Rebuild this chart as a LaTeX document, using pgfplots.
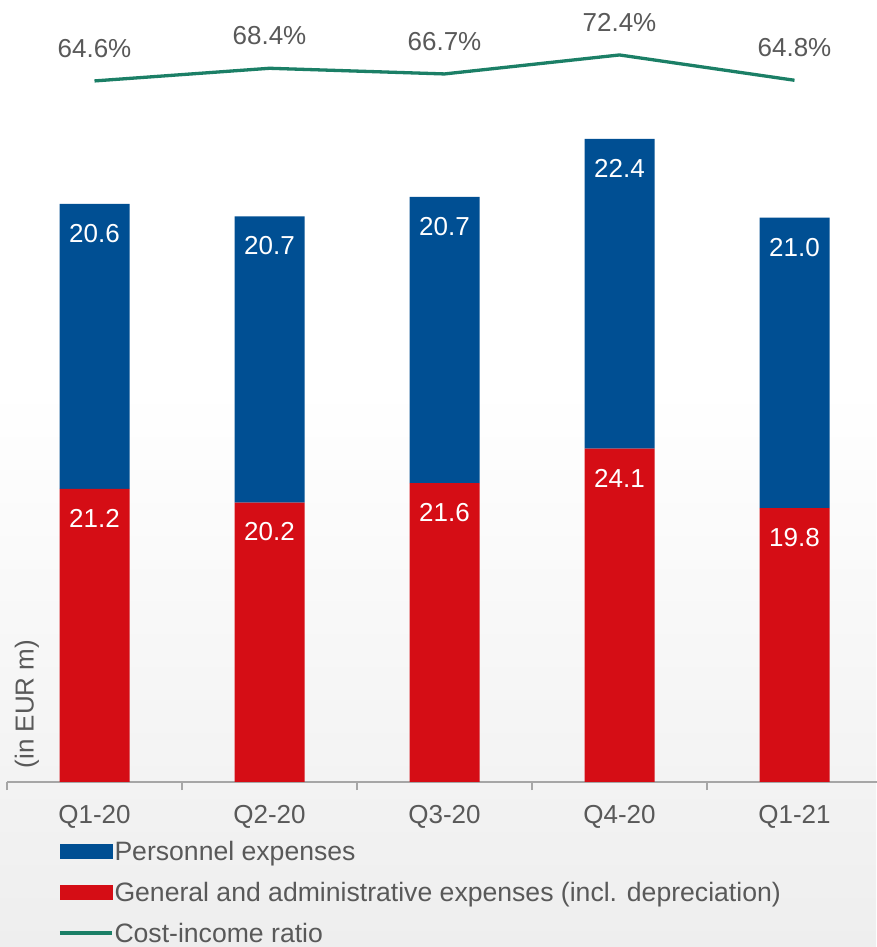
\documentclass[border=0pt]{standalone}
\usepackage{pgfplots}
\pgfplotsset{compat=1.18}
\usepackage{pgfplotstable}
\usepackage{fontspec}
\setmainfont{Liberation Sans}
\definecolor{pblue}{RGB}{0,79,147}
\definecolor{pred}{RGB}{213,13,21}
\definecolor{pgreen}{RGB}{27,127,102}
\definecolor{tgray}{RGB}{89,89,89}
\definecolor{agray}{RGB}{166,166,166}
\definecolor{bgray}{RGB}{238,238,238}

\pgfplotstableread{
x red blue
0 21.2 20.6
1 20.2 20.7
2 21.6 20.7
3 24.1 22.4
4 19.8 21.0
}\costs

% label positions: top of each stacked segment
\pgfplotstableread{
x top lab
0 21.2 21.2
1 20.2 20.2
2 21.6 21.6
3 24.1 24.1
4 19.8 19.8
0 41.8 20.6
1 40.9 20.7
2 42.3 20.7
3 46.5 22.4
4 40.8 21.0
}\labels

\pgfplotstableread{
x cir lab
0 64.6 64.6\%
1 68.4 68.4\%
2 66.7 66.7\%
3 72.4 72.4\%
4 64.8 64.8\%
}\ratio

\newcommand{\bigf}{\fontsize{26}{31}\selectfont}
\newcommand{\legf}{\fontsize{26.6}{31}\selectfont}

\begin{document}
\begin{tikzpicture}[x=1pt,y=1pt]
\useasboundingbox (0,0) rectangle (876,947);
\fill[white] (0,0) rectangle (876,947);
\shade[top color=white, bottom color=bgray] (0,0) rectangle (876,560);

\begin{axis}[
  at={(7pt,165pt)}, anchor=south west,
  scale only axis, width=875pt, height=752pt,
  xmin=-0.5, xmax=4.5, ymin=0, ymax=54.37,
  ybar stacked, bar width=70pt,
  axis y line=none, axis x line*=bottom,
  axis line style={draw=agray, line width=1.5pt},
  xtick={0,1,2,3,4},
  xticklabels={Q1-20,Q2-20,Q3-20,Q4-20,Q1-21},
  major tick length=0pt,
  xticklabel style={font=\bigf, text=tgray, yshift=-20pt},
  extra x ticks={-0.5,0.5,1.5,2.5,3.5,4.5},
  extra x tick labels={},
  extra x tick style={major tick length=8pt, tick align=outside,
     tick style={draw=agray, line width=1.3pt}},
  legend style={draw=none, fill=none, at={(0,0)}, anchor=north west,
     xshift=48pt, yshift=-56pt, font=\legf, text=tgray, row sep=18pt,
     /tikz/every even column/.append style={column sep=4pt},
     nodes={inner sep=1pt}},
  legend cell align=left,
]
\addplot[fill=pred, draw=none, forget plot] table[x=x, y=red] {\costs};
\addplot[fill=pblue, draw=none, forget plot] table[x=x, y=blue] {\costs};
\addlegendimage{legend image code/.code={\fill[pblue] (0pt,-7pt) rectangle (52pt,7pt);}}
\addlegendentry{Personnel expenses}
\addlegendimage{legend image code/.code={\fill[pred] (0pt,-7pt) rectangle (52pt,7pt);}}
\addlegendentry{General and administrative expenses (incl. depreciation)}
\addlegendimage{legend image code/.code={\draw[pgreen, line width=3.3pt] (0pt,0pt) -- (52pt,0pt);}}
\addlegendentry{Cost-income ratio}
\end{axis}

\begin{axis}[
  at={(7pt,165pt)}, anchor=south west,
  scale only axis, width=875pt, height=752pt,
  xmin=-0.5, xmax=4.5, ymin=0, ymax=54.37,
  hide axis,
  nodes near coords,
  point meta=explicit symbolic,
  every node near coord/.append style={font=\bigf, text=white, anchor=north, inner sep=0pt, yshift=-20pt},
]
\addplot[draw=none, mark=none, only marks] table[x=x, y=top, meta=lab] {\labels};
\end{axis}

\begin{axis}[
  at={(7pt,165pt)}, anchor=south west,
  scale only axis, width=875pt, height=752pt,
  xmin=-0.5, xmax=4.5, ymin=-145.9, ymax=79.9,
  hide axis,
  nodes near coords,
  point meta=explicit symbolic,
  every node near coord/.append style={font=\bigf, text=tgray, anchor=south, inner sep=0pt, yshift=22pt},
]
\addplot[pgreen, line width=3.3pt, mark=none] table[x=x, y=cir, meta=lab] {\ratio};
\end{axis}

\node[rotate=90, text=tgray, font=\bigf] at (27,243) {(in EUR m)};
\end{tikzpicture}
\end{document}
